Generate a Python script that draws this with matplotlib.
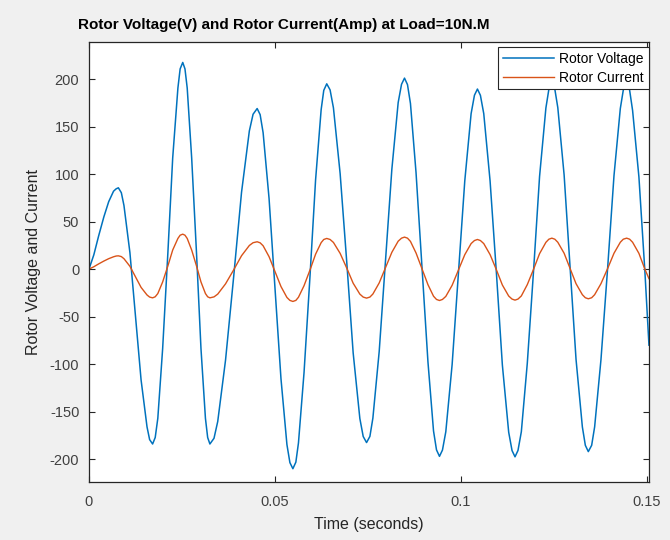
import numpy as np
import matplotlib
matplotlib.use("Agg")
import matplotlib.pyplot as plt

# values (time in s)
time = [
    0, 0.0013, 0.0026, 0.0040, 0.0053, 0.0066, 0.0073, 0.0079,
    0.0087, 0.0094, 0.0110, 0.0125, 0.0140, 0.0156, 0.0163, 0.0171,
    0.0178, 0.0185, 0.0198, 0.0212, 0.0225, 0.0239, 0.0245, 0.0252,
    0.0258, 0.0264, 0.0276, 0.0289, 0.0301, 0.0313, 0.0319, 0.0325,
    0.0336, 0.0346, 0.0367, 0.0389, 0.0410, 0.0431, 0.0441, 0.0452,
    0.0460, 0.0468, 0.0484, 0.0500, 0.0516, 0.0532, 0.0540, 0.0548,
    0.0556, 0.0563, 0.0578, 0.0594, 0.0609, 0.0624, 0.0631, 0.0639,
    0.0648, 0.0657, 0.0675, 0.0693, 0.0710, 0.0728, 0.0737, 0.0746,
    0.0755, 0.0763, 0.0780, 0.0797, 0.0814, 0.0831, 0.0840, 0.0848,
    0.0856, 0.0864, 0.0879, 0.0895, 0.0911, 0.0926, 0.0934, 0.0942,
    0.0950, 0.0959, 0.0976, 0.0993, 0.1010, 0.1027, 0.1036, 0.1044,
    0.1052, 0.1061, 0.1078, 0.1095, 0.1111, 0.1128, 0.1137, 0.1145,
    0.1153, 0.1162, 0.1178, 0.1195, 0.1211, 0.1228, 0.1236, 0.1244,
    0.1252, 0.1260, 0.1277, 0.1293, 0.1309, 0.1326, 0.1334, 0.1342,
    0.1351, 0.1359, 0.1376, 0.1394, 0.1411, 0.1428, 0.1436, 0.1445,
    0.1453, 0.1461, 0.1478, 0.1494, 0.1505,
]

rotor_voltage = [
    0, 15, 35, 55, 71, 82, 84.5, 85.6,
    80.4, 67, 17.5, -49.5, -116.5, -166, -179.4, -184,
    -177.2, -157, -83.6, 16.8, 117, 190.6, 210.7, 217.5,
    210.7, 190.6, 117, 16.8, -83.6, -157, -177.2, -184,
    -178, -160.4, -95.8, -7.5, 80.8, 145.4, 163, 169,
    162.6, 143.6, 74.3, -20.5, -115.3, -184.6, -203.6, -210,
    -203.1, -182.9, -108.8, -7.5, 93.8, 167.9, 188.1, 195,
    188.6, 169.7, 100.6, 6.3, -88.1, -157.2, -176.1, -182.5,
    -176, -156.8, -86.6, 9.3, 105.1, 175.3, 194.5, 201,
    194.2, 174.3, 101.5, 2, -97.5, -170.3, -190.2, -197,
    -190.4, -171.1, -100.4, -3.8, 92.9, 163.6, 183, 189.5,
    182.9, 163.6, 92.8, -4, -100.8, -171.6, -190.9, -197.5,
    -190.8, -171.1, -99.1, -0.8, 97.6, 169.6, 189.3, 196,
    189.4, 170, 99, 2, -95, -166, -185.4, -192,
    -185.4, -166, -95.3, 1.5, 98.3, 169, 188.4, 195,
    188.4, 167, 97, -2, -80,
]

rotor_current = [
    0, 2.5, 5.5, 8.5, 11, 13, 13.8, 14,
    13.2, 11.0, 3.0, -8.1, -19.2, -27.2, -29.4, -30.2,
    -29.1, -25.7, -13.5, 3.3, 20.1, 32.3, 35.7, 36.8,
    35.7, 32.3, 20.1, 3.3, -13.5, -25.7, -29.1, -30.2,
    -29.2, -26.3, -15.5, -0.7, 14.1, 24.9, 27.8, 28.8,
    27.7, 24.6, 13.1, -2.6, -18.3, -29.8, -32.9, -34,
    -32.9, -29.6, -17.4, -0.9, 15.7, 27.9, 31.2, 32.3,
    31.2, 28.1, 16.6, 0.9, -14.8, -26.3, -29.4, -30.5,
    -29.4, -26.2, -14.5, 1.6, 17.7, 29.4, 32.6, 33.7,
    32.6, 29.2, 17.0, 0.4, -16.3, -28.5, -31.9, -33,
    -31.9, -28.7, -17.0, -0.9, 15.2, 26.9, 30.1, 31.2,
    30.1, 26.9, 15.3, -0.7, -16.7, -28.3, -31.5, -32.6,
    -31.5, -28.2, -16.3, 0, 16.3, 28.2, 31.5, 32.6,
    31.5, 28.3, 16.7, 0.7, -15.3, -26.9, -30.1, -31.2,
    -30.1, -26.9, -15.3, 0.7, 16.7, 28.3, 31.5, 32.6,
    31.5, 28.3, 16.6, 0, -10,
]

x_ticks = [0, 0.05, 0.1, 0.15]
x_tick_labels = ["0", "0.05", "0.1", "0.15"]
y_ticks = [-200, -150, -100, -50, 0, 50, 100, 150, 200]

plt.rcParams.update(
    {
        "font.family": ["Liberation Sans", "DejaVu Sans"],
        "axes.unicode_minus": False,
        "axes.edgecolor": "#262626",
        "xtick.color": "#262626",
        "ytick.color": "#262626",
    }
)

fig = plt.figure(figsize=(6.7, 5.4), dpi=100, facecolor="#f0f0f0")
ax = fig.add_axes([0.1328, 0.1074, 0.8358, 0.8148])
ax.set_facecolor("white")

ax.plot(time, rotor_voltage, c="#0072bd", lw=1.1, label="Rotor Voltage")
ax.plot(time, rotor_current, c="#d95319", lw=1.0, label="Rotor Current")

ax.set_xlim(0, 0.1505)
ax.set_ylim(-224, 239)
ax.set_xticks(x_ticks)
ax.set_xticklabels(x_tick_labels)
ax.set_yticks(y_ticks)

ax.tick_params(direction="in", length=4, width=0.8, top=True, right=True,
               labelsize=10.5, labelcolor="#404040")
ax.tick_params(axis="x", pad=9)
ax.tick_params(axis="y", pad=7)
for s in ax.spines.values():
    s.set_linewidth(0.9)

fig.text(284 / 670, 1 - 25 / 540,
         "Rotor Voltage(V) and Rotor Current(Amp) at Load=10N.M",
         fontsize=11, fontweight="bold", ha="center", va="center",
         color="black")
ax.set_xlabel("Time (seconds)", fontsize=11.5, color="#262626", labelpad=6)
ax.set_ylabel("Rotor Voltage and Current", fontsize=11.5, color="#262626",
              labelpad=6)

leg = ax.legend(loc="upper right", bbox_to_anchor=(1.0, 0.989), fontsize=10,
                fancybox=False, framealpha=1, edgecolor="#262626",
                borderaxespad=0, handlelength=3.7, borderpad=0.35,
                labelspacing=0.35, handletextpad=0.4)
leg.get_frame().set_linewidth(0.8)

plt.savefig("out.png", dpi=100, facecolor=fig.get_facecolor())
